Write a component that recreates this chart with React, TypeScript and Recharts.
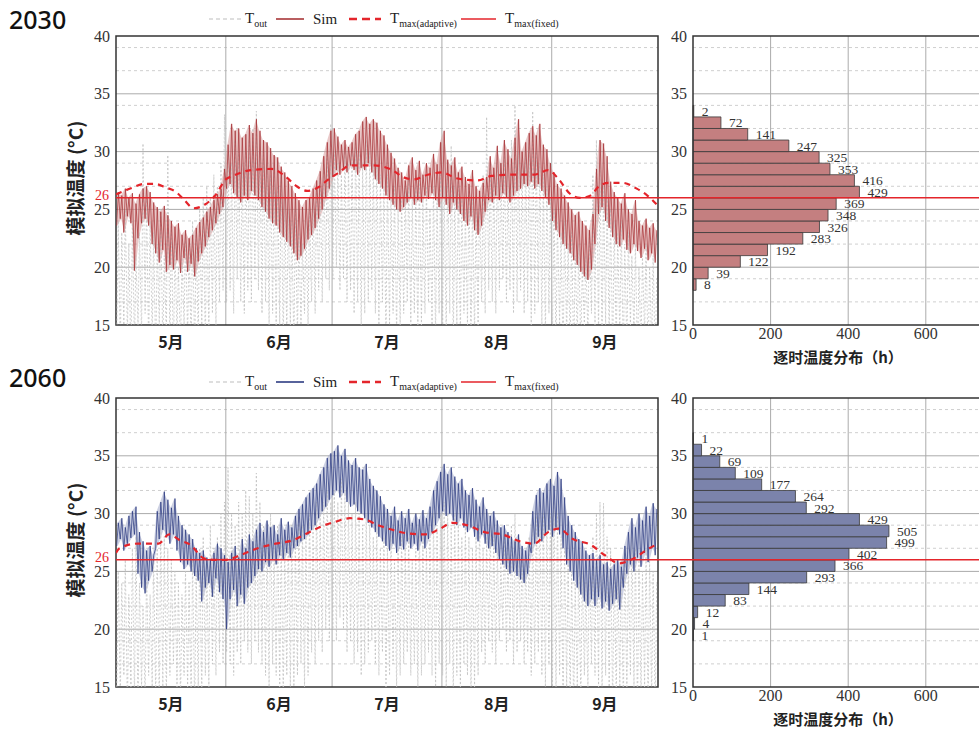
import React from 'react';
import {
  ComposedChart,
  Line,
  Area,
  XAxis,
  YAxis,
  CartesianGrid,
  ReferenceLine,
  ReferenceArea,
} from 'recharts';

const SERIF = '"Liberation Serif", "Times New Roman", serif';
const CJK = '"Noto Sans CJK SC", "Noto Sans", sans-serif';
const RED = '#e4252b';

const months = ['5月', '6月', '7月', '8月', '9月'];
const monthDays = [31, 30, 31, 31, 30];
const tempTicks = [15, 20, 25, 30, 35, 40];
const countTicks = [0, 200, 400, 600];
const countMinor = [100, 300, 500, 700];
const fixedTmax = 26;

// 2030 – daily max / min of simulated indoor temperature (one row per month)
const sim2030Hi = [
  26.5, 26.2, 26.8, 26.0, 26.4, 25.5, 26.3, 26.8, 27.0, 26.5, 25.6, 25.2, 24.8, 25.3, 24.5, 24.0, 23.5, 23.8, 22.8, 23.2, 22.5, 22.8, 23.4, 23.9, 24.3, 24.8, 25.2, 25.8, 26.3, 26.8, 28.5,
  30.6, 32.4, 31.8, 32.0, 31.2, 31.5, 32.3, 31.6, 32.8, 31.8, 31.0, 30.8, 30.3, 29.7, 29.5, 28.7, 28.2, 27.5, 27.0, 26.4, 25.8, 25.2, 25.8, 26.0, 26.8, 27.5, 28.3, 29.6, 30.8, 31.8,
  32.0, 31.3, 30.6, 31.0, 30.4, 30.8, 31.5, 31.8, 32.6, 33.0, 32.4, 32.8, 32.5, 31.8, 31.4, 30.6, 29.9, 29.4, 28.6, 28.2, 27.5, 28.8, 29.5, 28.4, 29.2, 28.0, 29.0, 28.6, 29.8, 28.9, 30.8,
  31.8, 29.3, 28.8, 29.5, 28.2, 28.7, 27.8, 27.2, 28.4, 27.0, 26.6, 27.3, 27.8, 29.6, 28.6, 30.5, 29.0, 31.0, 30.2, 29.4, 31.2, 32.8, 30.0, 30.8, 31.6, 32.2, 31.4, 32.4, 30.6, 30.2, 29.0,
  28.2, 27.2, 26.8, 26.2, 25.6, 25.0, 24.5, 24.8, 24.0, 23.6, 23.2, 24.6, 28.5, 31.0, 30.7, 29.6, 27.4, 26.5, 26.0, 25.5, 26.4, 25.0, 24.6, 25.8, 24.0, 23.6, 24.2, 23.4, 23.8, 23.2,
];
const sim2030Lo = [
  23.6, 24.2, 23.0, 24.4, 23.8, 19.7, 22.5, 23.8, 24.2, 23.6, 22.0, 21.2, 20.4, 21.5, 19.6, 20.2, 19.8, 20.6, 19.5, 20.8, 19.6, 20.3, 19.2, 20.5, 21.2, 21.8, 22.6, 23.2, 23.8, 24.6, 25.2,
  26.8, 27.2, 26.4, 26.0, 25.6, 26.2, 25.8, 26.6, 26.2, 25.8, 25.2, 24.8, 24.2, 23.8, 23.6, 23.0, 22.6, 22.2, 21.8, 21.2, 20.6, 21.0, 21.6, 22.4, 22.8, 23.4, 24.2, 25.0, 26.0, 26.8,
  27.8, 28.4, 28.0, 28.6, 28.2, 28.8, 28.4, 28.0, 28.6, 28.4, 29.0, 28.2, 27.6, 27.2, 26.8, 26.2, 25.8, 25.4, 25.0, 24.8, 25.2, 25.6, 26.0, 25.4, 25.8, 25.6, 26.2, 25.9, 26.4, 25.8, 25.2,
  26.0, 25.4, 24.6, 25.6, 25.0, 24.6, 24.0, 23.6, 24.4, 23.2, 22.8, 23.6, 24.8, 25.8, 25.6, 26.2, 25.8, 26.4, 26.0, 25.6, 26.2, 26.6, 26.8, 27.2, 27.0, 27.4, 26.8, 27.2, 26.6, 26.0, 25.4,
  24.0, 23.2, 22.6, 22.0, 21.6, 21.2, 20.6, 20.2, 19.6, 19.2, 18.9, 19.8, 22.0, 24.6, 25.2, 24.0, 23.4, 22.6, 22.0, 21.8, 22.4, 21.5, 21.2, 22.0, 21.4, 20.8, 21.6, 20.6, 21.2, 20.4,
];
// 2030 – daily max / min of outdoor temperature
const out2030Hi = [
  24, 23, 25, 22, 24, 21, 23, 30.7, 26, 24, 23, 22, 25, 21, 29.7, 24, 22, 20, 21, 23, 22, 24, 23, 25, 26, 27, 26, 28, 27, 29, 33.2,
  30, 29, 31, 30, 29, 30, 31, 32, 33.5, 31, 30, 29, 28, 29, 27, 28, 26, 25, 24, 25, 23, 22, 24, 25, 26, 27, 28, 29, 30, 32.4,
  30, 29, 28, 30, 29, 30, 31, 30, 29, 31, 30, 29, 30, 28, 27, 28, 26, 27, 25, 26, 27, 28, 26, 27, 28, 26, 27, 25, 27, 26, 28,
  27, 29, 30.5, 27, 28, 26, 25, 27, 26, 25, 26, 28, 33, 29, 28, 30, 29, 30, 28, 31, 34, 30, 29, 30, 31, 33.5, 30, 29, 28, 27, 26,
  25, 24, 23, 24, 22, 23, 21, 22, 20, 21, 23, 28, 31, 29, 27, 26, 25, 24, 23, 24, 22, 23, 21, 22, 20, 21, 22, 20, 21, 19,
];
const out2030Lo = [
  14, 13, 15, 14, 12, 13, 15, 14, 16, 13, 14, 12, 15, 13, 14, 13, 12, 14, 13, 15, 14, 13, 12, 14, 15, 13, 14, 16, 15, 17, 18,
  17, 18, 16, 19, 17, 16, 18, 17, 19, 18, 16, 17, 15, 16, 14, 15, 13, 14, 15, 13, 14, 15, 16, 15, 17, 16, 18, 17, 19, 18,
  19, 20, 18, 19, 17, 18, 16, 17, 15, 16, 17, 18, 16, 15, 17, 14, 15, 16, 14, 15, 16, 17, 15, 16, 14, 15, 16, 17, 15, 14, 16,
  15, 14, 16, 13, 15, 14, 16, 15, 13, 14, 15, 17, 16, 18, 17, 16, 18, 19, 17, 18, 16, 17, 18, 16, 17, 15, 16, 17, 15, 14, 16,
  14, 13, 15, 12, 14, 13, 12, 14, 13, 15, 14, 16, 15, 14, 13, 15, 14, 12, 13, 14, 12, 13, 15, 14, 12, 13, 14, 12, 13, 12,
];
const adapt2030Days = [0, 4, 8, 11, 14, 17, 19, 22, 25, 28, 31, 33, 38, 44, 48, 51, 54, 57, 60, 63, 66, 73, 78, 81, 84, 88, 92, 96, 102, 106, 111, 118, 122, 125, 128, 131, 134, 136, 139, 143, 147, 150, 153];
const adapt2030 = [26.3, 26.8, 27.2, 27.2, 26.9, 26.5, 25.9, 25.1, 25.4, 26.2, 27.6, 27.9, 28.4, 28.5, 27.8, 27.0, 26.6, 26.9, 27.6, 28.2, 28.8, 28.8, 28.4, 27.8, 27.6, 28.0, 28.2, 27.7, 27.5, 27.9, 28.0, 28.0, 28.4, 27.6, 26.4, 26.0, 26.2, 26.9, 27.3, 27.3, 26.8, 26.2, 25.3];

// 2060 – daily max / min of simulated indoor temperature
const sim2060Hi = [
  29.2, 29.6, 28.8, 29.8, 30.2, 30.6, 28.4, 27.6, 26.8, 27.2, 26.4, 30.2, 31.0, 31.9, 31.2, 30.5, 31.3, 29.8, 29.0, 28.6, 28.2, 27.8, 27.0, 26.6, 26.8, 26.2, 26.0, 26.6, 27.4, 27.0, 26.4,
  25.8, 26.6, 27.2, 26.2, 27.8, 27.0, 28.2, 27.6, 28.6, 29.2, 28.4, 29.4, 28.8, 29.0, 28.2, 29.6, 28.6, 29.3, 28.8, 29.8, 30.4, 30.8, 31.4, 31.8, 32.2, 32.6, 33.4, 34.0, 34.8, 35.2,
  35.4, 35.9, 35.0, 35.6, 34.6, 34.2, 34.8, 34.0, 33.8, 34.3, 33.0, 32.4, 32.0, 31.5, 30.8, 30.4, 29.8, 30.6, 29.4, 30.2, 29.6, 30.4, 29.2, 30.0, 29.5, 30.3, 29.6, 30.6, 32.0, 32.8, 33.6,
  34.3, 33.4, 34.0, 33.2, 32.6, 33.0, 32.0, 31.6, 32.2, 31.2, 30.6, 31.4, 30.4, 29.8, 30.2, 29.4, 28.8, 29.0, 28.4, 28.0, 27.6, 28.2, 27.2, 26.8, 27.4, 30.2, 31.6, 32.2, 31.8, 32.6, 33.0,
  32.4, 33.6, 33.0, 31.4, 29.8, 29.0, 28.4, 27.8, 27.6, 26.8, 26.4, 26.6, 26.0, 26.4, 25.6, 25.8, 25.2, 25.6, 26.0, 25.4, 27.2, 28.4, 29.6, 28.8, 30.0, 29.4, 30.6, 29.8, 30.9, 30.4,
];
const sim2060Lo = [
  27.2, 27.8, 26.8, 27.4, 27.9, 28.2, 24.8, 23.6, 23.1, 24.2, 25.0, 27.0, 27.8, 28.6, 28.0, 27.4, 28.2, 26.8, 25.8, 25.2, 25.6, 25.0, 24.6, 24.2, 22.4, 23.6, 24.0, 22.8, 24.4, 23.2, 22.6,
  20.0, 22.6, 23.4, 22.0, 23.0, 22.2, 23.6, 24.0, 24.6, 25.2, 25.0, 25.8, 25.4, 26.0, 25.6, 26.4, 26.0, 26.6, 26.2, 27.0, 27.2, 27.6, 27.8, 28.2, 28.6, 29.0, 29.6, 30.2, 30.6, 31.2,
  31.6, 32.0, 31.4, 31.8, 31.0, 30.6, 30.8, 30.2, 30.0, 29.6, 29.2, 28.8, 28.4, 28.0, 27.6, 27.2, 26.8, 27.4, 26.6, 27.2, 26.9, 27.6, 27.0, 27.4, 26.8, 27.6, 27.0, 27.8, 28.4, 29.0, 29.6,
  30.2, 29.8, 30.0, 29.4, 29.0, 29.6, 28.8, 28.4, 28.8, 28.0, 27.6, 28.2, 27.4, 27.0, 27.2, 26.6, 26.0, 25.6, 25.2, 24.8, 25.0, 24.6, 24.3, 24.0, 24.8, 26.6, 27.4, 28.0, 27.6, 28.2, 28.6,
  28.0, 28.8, 28.2, 27.0, 25.6, 25.0, 24.2, 23.6, 23.0, 22.4, 22.0, 22.6, 22.0, 22.8, 21.8, 22.4, 21.6, 22.2, 22.6, 21.7, 23.6, 24.8, 25.6, 25.0, 26.2, 25.4, 26.6, 25.8, 27.0, 26.4,
];
// 2060 – daily max / min of outdoor temperature
const out2060Hi = [
  25, 24, 26, 23, 27, 28, 24, 22, 25, 23, 26, 27, 29, 28, 27, 26, 25, 24, 23, 25, 24, 26, 25, 27, 28, 26, 29, 27, 28, 30, 31,
  34, 30, 29, 31, 30, 32, 31.5, 30, 33.5, 31, 29, 28, 30, 27, 29, 28, 27, 28, 29, 28, 30, 29, 28, 30, 29, 31, 30, 31, 32, 31,
  32, 31, 33, 32, 31, 30, 31, 30, 29, 30, 29, 28, 29, 27, 28, 27, 28, 26, 27, 28, 27, 28, 26, 27, 29, 28, 27, 28, 30, 29, 30,
  31, 30, 29, 30, 29, 28, 29, 28, 27, 28, 29, 27, 28, 29, 28, 27, 26, 28, 27, 29, 30, 28, 27, 26, 28, 29, 30, 31, 30, 29, 30,
  31, 30, 28, 27, 26, 25, 24, 26, 25, 24, 26, 28, 30, 31, 30.9, 28, 27, 26, 25, 26, 27, 26, 28, 27, 26, 25, 27, 26, 25, 24,
];
const out2060Lo = [
  15, 14, 16, 13, 15, 14, 13, 15, 14, 16, 15, 14, 13, 15, 14, 16, 17, 15, 14, 16, 15, 14, 13, 15, 14, 16, 15, 17, 16, 18, 17,
  18, 17, 16, 18, 17, 19, 18, 17, 19, 18, 17, 16, 15, 17, 16, 15, 14, 16, 15, 14, 16, 17, 15, 16, 18, 17, 19, 18, 20, 19,
  20, 19, 21, 20, 18, 19, 17, 18, 16, 17, 18, 19, 17, 16, 18, 15, 16, 17, 15, 16, 17, 18, 16, 17, 15, 16, 17, 18, 16, 15, 17,
  16, 15, 17, 14, 16, 15, 17, 16, 14, 15, 16, 18, 17, 19, 18, 17, 19, 20, 18, 19, 17, 18, 19, 17, 18, 16, 17, 18, 16, 15, 17,
  15, 14, 16, 13, 15, 14, 13, 15, 14, 16, 15, 17, 16, 15, 14, 16, 15, 13, 14, 15, 13, 14, 16, 15, 13, 14, 15, 13, 14, 13,
];
const adapt2060Days = [0, 1, 6, 12, 15, 18, 21, 25, 28, 31, 35, 40, 45, 50, 54, 58, 62, 66, 70, 74, 78, 82, 87, 91, 95, 99, 104, 109, 114, 118, 122, 125, 129, 134, 138, 142, 146, 150, 153];
const adapt2060 = [26.6, 27.0, 27.4, 27.4, 28.2, 27.7, 27.3, 26.1, 26.0, 26.0, 26.4, 27.0, 27.4, 27.7, 28.3, 28.9, 29.3, 29.6, 29.5, 29.0, 28.6, 28.3, 28.2, 28.6, 29.2, 29.0, 28.4, 28.2, 27.6, 27.4, 28.4, 28.7, 27.8, 27.3, 26.4, 25.7, 26.1, 26.9, 27.4];

// hourly distribution (1 °C bins, lower edge) – hours
const bins2030 = [18, 19, 20, 21, 22, 23, 24, 25, 26, 27, 28, 29, 30, 31, 32, 33];
const hours2030 = [8, 39, 122, 192, 283, 326, 348, 369, 429, 416, 353, 325, 247, 141, 72, 2];
const bins2060 = [19, 20, 21, 22, 23, 24, 25, 26, 27, 28, 29, 30, 31, 32, 33, 34, 35, 36];
const hours2060 = [1, 4, 12, 83, 144, 293, 366, 402, 499, 505, 429, 292, 264, 177, 109, 69, 22, 1];

const monthStart = monthDays.reduce<number[]>((acc, n) => [...acc, acc[acc.length - 1] + n], [0]);
const totalDays = monthStart[monthStart.length - 1];
const monthMid = months.map((_, i) => (monthStart[i] + monthStart[i + 1]) / 2);
const monthEdges = monthStart.slice(1, -1);
const degrees = Array.from({ length: 26 }, (_, i) => 15 + i);
const minorLines = degrees.filter((t) => t % 5 !== 0);
const majorLines = [20, 25, 30, 35];
const countMax = 750;

const numTick = { fontSize: 16, fill: '#333', fontFamily: SERIF };
const tickStroke = { stroke: '#333' };

// inward tick marks on all four sides (mirrored axes take no room)
const innerYTicks = () =>
  (['left', 'right'] as const).flatMap((o) => [
    <YAxis key={o + 'M'} yAxisId={o + 'M'} orientation={o} mirror type="number" domain={[15, 40]}
      ticks={tempTicks} tick={false} tickSize={7} axisLine={false} tickLine={tickStroke} />,
    <YAxis key={o + 'm'} yAxisId={o + 'm'} orientation={o} mirror type="number" domain={[15, 40]}
      ticks={degrees} tick={false} tickSize={4} axisLine={false} tickLine={tickStroke} />,
  ]);

const innerXTicks = (domain: number[], major: number[], minor: number[]) =>
  (['top', 'bottom'] as const).flatMap((o) => [
    <XAxis key={o + 'M'} xAxisId={o + 'M'} orientation={o} mirror type="number" domain={domain}
      ticks={major} interval={0} tick={false} tickSize={7} axisLine={false} tickLine={tickStroke} allowDataOverflow />,
    ...(minor.length
      ? [<XAxis key={o + 'm'} xAxisId={o + 'm'} orientation={o} mirror type="number" domain={domain}
          ticks={minor} interval={0} tick={false} tickSize={4} axisLine={false} tickLine={tickStroke} allowDataOverflow />]
      : []),
  ]);

interface TimeProps {
  simHi: number[];
  simLo: number[];
  outHi: number[];
  outLo: number[];
  adaptDays: number[];
  adaptVals: number[];
  simColor: string;
  bandColor: string;
}

function TimeChart({ simHi, simLo, outHi, outLo, adaptDays, adaptVals, simColor, bandColor }: TimeProps) {
  const sim = simHi.flatMap((h, d) => [{ x: d + 0.2, y: simLo[d] }, { x: d + 0.65, y: h }]);
  const band = simHi.map((h, d) => ({ x: d + 0.45, y: [simLo[d], h] }));
  const out = outHi.flatMap((h, d) => [{ x: d + 0.22, y: outLo[d] }, { x: d + 0.62, y: h }]);
  const adaptive = adaptDays.map((d, i) => ({ x: d, y: adaptVals[i] }));

  return (
    <ComposedChart width={662} height={362} margin={{ top: 36, right: 4, bottom: 7, left: 76 }}>
      <CartesianGrid horizontalValues={minorLines} vertical={false} stroke="#cfcfcf" strokeDasharray="3 3" />
      <CartesianGrid horizontalValues={majorLines} verticalValues={monthEdges} stroke="#ababab" />
      <XAxis
        type="number"
        dataKey="x"
        domain={[0, totalDays]}
        ticks={monthMid}
        interval={0}
        tickFormatter={(_, i) => months[i]}
        allowDataOverflow
        axisLine={false}
        tickLine={false}
        tickSize={0}
        tickMargin={12}
        height={30}
        tick={{ fontSize: 16, fontWeight: 700, fill: '#222', fontFamily: CJK }}
      />
      <YAxis
        type="number"
        domain={[15, 40]}
        ticks={tempTicks}
        allowDataOverflow
        width={40}
        axisLine={false}
        tickLine={false}
        tickSize={0}
        tickMargin={6}
        tick={numTick}
      />
      {innerYTicks()}
      {innerXTicks([0, totalDays], monthEdges, [])}
      <Line data={out} dataKey="y" stroke="#c2c2c2" strokeWidth={0.8} strokeDasharray="2 2"
        dot={false} isAnimationActive={false} />
      <Area data={band} dataKey="y" type="linear" stroke="none" fill={bandColor} fillOpacity={0.55}
        isAnimationActive={false} />
      <Line data={sim} dataKey="y" stroke={simColor} strokeWidth={0.9} strokeOpacity={0.85}
        dot={false} isAnimationActive={false} />
      <Line data={adaptive} type="monotone" dataKey="y" stroke={RED} strokeWidth={2.2} strokeDasharray="6 5"
        dot={false} isAnimationActive={false} />
      <ReferenceLine
        y={fixedTmax}
        stroke={RED}
        strokeWidth={1.5}
        label={{ value: String(fixedTmax), position: 'left', offset: 7, dy: -3, fill: RED, fontSize: 14, fontFamily: SERIF }}
      />
      <ReferenceArea x1={0} x2={totalDays} y1={15} y2={40} fill="none" fillOpacity={0} stroke="#333" strokeWidth={1.5} />
    </ComposedChart>
  );
}

function HistChart({ bins, hours, fill }: { bins: number[]; hours: number[]; fill: string }) {
  const rows = bins.map((b, i) => ({ from: b, to: b + 1, h: hours[i] }));

  return (
    <ComposedChart width={400} height={362} margin={{ top: 36, right: 56, bottom: 7, left: 8 }}>
      <CartesianGrid horizontalValues={minorLines} vertical={false} stroke="#cfcfcf" strokeDasharray="3 3" />
      <CartesianGrid horizontalValues={majorLines} verticalValues={countTicks.slice(1)} stroke="#ababab" />
      <XAxis
        type="number"
        dataKey="h"
        domain={[0, countMax]}
        ticks={countTicks}
        interval={0}
        allowDataOverflow
        axisLine={false}
        tickLine={false}
        tickSize={0}
        tickMargin={3}
        height={30}
        tick={numTick}
      />
      <YAxis
        type="number"
        domain={[15, 40]}
        ticks={tempTicks}
        allowDataOverflow
        width={45}
        axisLine={false}
        tickLine={false}
        tickSize={0}
        tickMargin={6}
        tick={numTick}
      />
      {innerYTicks()}
      {innerXTicks([0, countMax], countTicks.slice(1), countMinor)}
      {rows.map((r) => (
        <ReferenceArea
          key={r.from}
          x1={0}
          x2={r.h}
          y1={r.from}
          y2={r.to}
          fill={fill}
          fillOpacity={1}
          stroke="#3a3a3a"
          strokeWidth={0.8}
          ifOverflow="visible"
          label={{ value: r.h, position: 'right', offset: 8, fill: '#333', fontSize: 13.5, fontFamily: SERIF }}
        />
      ))}
      <ReferenceLine
        y={fixedTmax}
        shape={(p: any) => (
          <line x1={p.x1 - 36} y1={p.y1} x2={p.x2} y2={p.y2} stroke={RED} strokeWidth={1.5} />
        )}
      />
      <ReferenceArea x1={0} x2={countMax} y1={15} y2={40} fill="none" fillOpacity={0} stroke="#333" strokeWidth={1.5} />
    </ComposedChart>
  );
}

function LegendRow({ simColor, top }: { simColor: string; top: number }) {
  const items = [
    { left: 209, len: 33, gap: 3, color: '#bdbdbd', w: 1.2, dash: '4 3', name: 'T', sub: 'out' },
    { left: 276, len: 28, gap: 9, color: simColor, w: 1.6, dash: undefined, name: 'Sim', sub: '' },
    { left: 349, len: 32, gap: 9, color: RED, w: 2.6, dash: '8 5', name: 'T', sub: 'max(adaptive)' },
    { left: 461, len: 35, gap: 9, color: RED, w: 1.6, dash: undefined, name: 'T', sub: 'max(fixed)' },
  ];
  return (
    <>
      {items.map((it) => (
        <div
          key={it.left}
          style={{
            position: 'absolute',
            left: it.left,
            top,
            height: 22,
            display: 'flex',
            alignItems: 'center',
            fontFamily: SERIF,
            fontSize: 15,
            color: '#222',
            whiteSpace: 'nowrap',
          }}
        >
          <svg width={it.len} height={6}>
            <line x1={0} y1={3} x2={it.len} y2={3} stroke={it.color} strokeWidth={it.w} strokeDasharray={it.dash} />
          </svg>
          <span style={{ marginLeft: it.gap }}>
            {it.name}
            {it.sub && <sub style={{ fontSize: 10 }}>{it.sub}</sub>}
          </span>
        </div>
      ))}
    </>
  );
}

interface PanelProps extends TimeProps {
  year: string;
  top: number;
  yearTop: number;
  legendTop: number;
  bins: number[];
  hours: number[];
  barFill: string;
}

function Panel(p: PanelProps) {
  return (
    <div style={{ position: 'absolute', left: 0, top: p.top, width: 979, height: 362 }}>
      <div
        style={{
          position: 'absolute',
          left: 9,
          top: p.yearTop,
          fontFamily: '"Noto Sans", sans-serif',
          fontSize: 25,
          fontWeight: 500,
          lineHeight: '30px',
          color: '#111',
        }}
      >
        {p.year}
      </div>
      <LegendRow simColor={p.simColor} top={p.legendTop} />
      <div
        style={{
          position: 'absolute',
          left: -25,
          top: 166,
          width: 200,
          textAlign: 'center',
          transform: 'rotate(-90deg)',
          fontFamily: CJK,
          fontSize: 19,
          fontWeight: 700,
          lineHeight: '24px',
          color: '#222',
        }}
      >
        模拟温度 (°C)
      </div>
      <div style={{ position: 'absolute', left: 0, top: 0 }}>
        <TimeChart {...p} />
      </div>
      <div style={{ position: 'absolute', left: 640, top: 0 }}>
        <HistChart bins={p.bins} hours={p.hours} fill={p.barFill} />
      </div>
      <div
        style={{
          position: 'absolute',
          left: 738,
          top: 346,
          width: 200,
          textAlign: 'center',
          fontFamily: CJK,
          fontSize: 15,
          fontWeight: 700,
          lineHeight: '22px',
          color: '#222',
        }}
      >
        逐时温度分布（h）
      </div>
    </div>
  );
}

export default function App() {
  return (
    <div
      style={{
        position: 'absolute',
        left: 0,
        top: 0,
        width: 979,
        height: 729,
        overflow: 'hidden',
        background: '#fff',
      }}
    >
      <Panel
        year="2030"
        top={0}
        yearTop={4}
        legendTop={8}
        simHi={sim2030Hi}
        simLo={sim2030Lo}
        outHi={out2030Hi}
        outLo={out2030Lo}
        adaptDays={adapt2030Days}
        adaptVals={adapt2030}
        simColor="#a83538"
        bandColor="#d79a9b"
        bins={bins2030}
        hours={hours2030}
        barFill="#c47f80"
      />
      <Panel
        year="2060"
        top={362}
        yearTop={0}
        legendTop={9}
        simHi={sim2060Hi}
        simLo={sim2060Lo}
        outHi={out2060Hi}
        outLo={out2060Lo}
        adaptDays={adapt2060Days}
        adaptVals={adapt2060}
        simColor="#2e3d82"
        bandColor="#a2a9cb"
        bins={bins2060}
        hours={hours2060}
        barFill="#7b83ab"
      />
    </div>
  );
}
